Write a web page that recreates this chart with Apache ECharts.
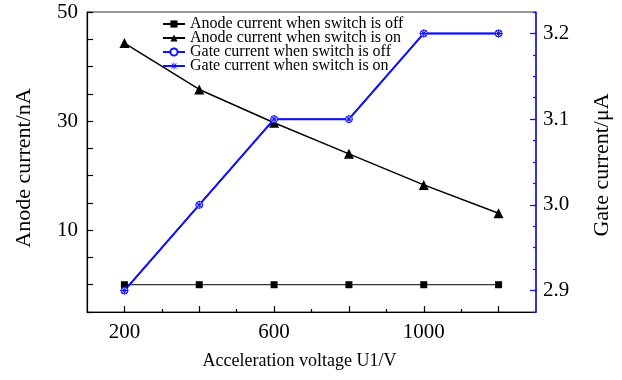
<!DOCTYPE html>
<html>
<head>
<meta charset="utf-8">
<script src="https://cdn.jsdelivr.net/npm/echarts@6/dist/echarts.min.js"></script>
<style>
  html, body { margin: 0; padding: 0; background: #fff; }
  #chart { width: 622px; height: 380px; }
</style>
</head>
<body>
<div id="chart"></div>
<script>
// data
const voltage = [200, 400, 600, 800, 1000, 1200]
const anodeOff = [0, 0, 0, 0, 0, 0]
const anodeOn = [44.3, 35.8, 29.7, 24.0, 18.3, 13.1]
const gateOff = [2.9, 3.0, 3.1, 3.1, 3.2, 3.2]
const gateOn = [2.9, 3.0, 3.1, 3.1, 3.2, 3.2]

const xLabels = [200, 600, 1000]
const xMajor = [200, 400, 600, 800, 1000, 1200]
const xMinor = [300, 500, 700, 900, 1100]
const leftLabels = [10, 30, 50]
const rightLabels = [2.9, 3.0, 3.1, 3.2]

const FONT = "'Liberation Serif', 'Times New Roman', serif"
const BLUE = '#1010ff'
const star = 'path://M4.4,0H5.6V10H4.4Z M0,4.4H10V5.6H0Z M1.1,1.9L1.9,1.1L8.9,8.1L8.1,8.9Z M8.1,1.1L8.9,1.9L1.9,8.9L1.1,8.1Z'

const pairs = arr => voltage.map((v, i) => [v, arr[i]])

const chart = echarts.init(document.getElementById('chart'))
chart.setOption({
  animation: false,
  textStyle: { fontFamily: FONT },
  grid: {
    left: 87, right: 86, top: 12, bottom: 68,
    show: true, borderColor: '#333', borderWidth: 1
  },
  legend: {
    orient: 'vertical',
    left: 157,
    top: 11,
    itemWidth: 22,
    itemHeight: 9,
    itemGap: -2,
    textStyle: { fontFamily: FONT, fontSize: 16, lineHeight: 14, color: '#000' },
    data: ['Anode current when switch is off', 'Anode current when switch is on',
      'Gate current when switch is off', 'Gate current when switch is on']
  },
  xAxis: [
    {
      type: 'value', min: 100, max: 1300, interval: 100, position: 'bottom',
      name: 'Acceleration voltage U1/V', nameLocation: 'middle', nameGap: 40,
      nameTextStyle: { fontFamily: FONT, fontSize: 18, color: '#000', padding: [0, 24, 0, 0] },
      axisLine: { onZero: false, lineStyle: { color: '#000', width: 1.2 } },
      axisTick: { inside: true, length: 6, customValues: xMajor, lineStyle: { color: '#000', width: 1.2 } },
      axisLabel: {
        customValues: xLabels, fontFamily: FONT, fontSize: 21, color: '#000', margin: 10,
        formatter: v => String(v)
      },
      splitLine: { show: false }
    },
    {
      type: 'value', min: 100, max: 1300, interval: 100, position: 'bottom',
      axisLine: { show: false, onZero: false },
      axisTick: { inside: true, length: 3, customValues: xMinor, lineStyle: { color: '#000', width: 1.2 } },
      axisLabel: { show: false },
      splitLine: { show: false }
    }
  ],
  yAxis: [
    {
      type: 'value', min: -5, max: 50, interval: 5, position: 'left',
      name: 'Anode current/nA', nameLocation: 'middle', nameGap: 52,
      nameTextStyle: { fontFamily: FONT, fontSize: 22, color: '#000', padding: [0, 12, 0, 0] },
      axisLine: { show: true, onZero: false, lineStyle: { color: '#000', width: 1.2 } },
      axisTick: { show: true, inside: true, length: 6, lineStyle: { color: '#000', width: 1.2 } },
      axisLabel: { customValues: leftLabels, fontFamily: FONT, fontSize: 21, color: '#000', margin: 9 },
      splitLine: { show: false }
    },
    {
      type: 'value', min: 2.875, max: 3.225, interval: 0.025, position: 'right',
      name: 'Gate current/μA', nameLocation: 'middle', nameGap: 55, nameRotate: 90,
      nameTextStyle: { fontFamily: FONT, fontSize: 22, color: '#000', padding: [0, 6, 0, 0] },
      axisLine: { show: true, onZero: false, lineStyle: { color: BLUE, width: 1.5 } },
      axisTick: { show: true, inside: true, length: 3, lineStyle: { color: BLUE, width: 1.2 } },
      axisLabel: {
        customValues: rightLabels, fontFamily: FONT, fontSize: 21, color: '#000', margin: 7,
        formatter: v => v.toFixed(1)
      },
      splitLine: { show: false }
    },
    {
      type: 'value', min: 2.875, max: 3.225, interval: 0.025, position: 'right',
      axisLine: { show: false, onZero: false },
      axisTick: { show: true, inside: true, length: 6, customValues: rightLabels, lineStyle: { color: BLUE, width: 1.2 } },
      axisLabel: { show: false },
      splitLine: { show: false }
    }
  ],
  series: [
    {
      name: 'Anode current when switch is off', type: 'line', yAxisIndex: 0,
      data: pairs(anodeOff), symbol: 'rect', symbolSize: 7,
      itemStyle: { color: '#000' }, lineStyle: { color: '#000', width: 1 }
    },
    {
      name: 'Anode current when switch is on', type: 'line', yAxisIndex: 0,
      data: pairs(anodeOn), symbol: 'triangle', symbolSize: 10,
      itemStyle: { color: '#000' }, lineStyle: { color: '#000', width: 1.5 }
    },
    {
      name: 'Gate current when switch is off', type: 'line', yAxisIndex: 1,
      data: pairs(gateOff), symbol: 'circle', symbolSize: 7,
      itemStyle: { color: '#fff', borderColor: BLUE, borderWidth: 1 },
      lineStyle: { color: BLUE, width: 1.5 }
    },
    {
      name: 'Gate current when switch is on', type: 'line', yAxisIndex: 1,
      data: pairs(gateOn), symbol: star, symbolSize: 8,
      itemStyle: { color: BLUE }, lineStyle: { color: BLUE, width: 2 }
    }
  ]
})
</script>
</body>
</html>
